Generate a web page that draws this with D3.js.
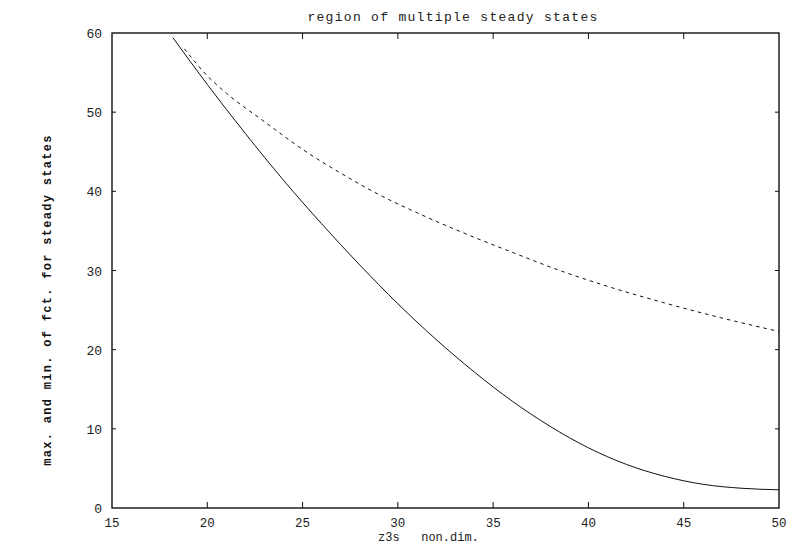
<!DOCTYPE html>
<html>
<head>
<meta charset="utf-8">
<script src="https://cdn.jsdelivr.net/npm/d3@7"></script>
<style>
  body { margin: 0; background: #fff; }
  svg { display: block; }
</style>
</head>
<body>
<script>
// upper branch (dashed) and lower branch (solid)
const maxX = [18.8, 20, 21, 23, 25, 27, 29, 31, 34, 36, 38.5, 41, 44, 47, 50];
const maxY = [58.0, 54.6, 52.4, 48.8, 45.3, 42.3, 39.6, 37.3, 34.2, 32.3, 30.0, 28.0, 25.9, 24.0, 22.3];
const minX = [18.2, 20, 22, 24, 26, 28, 30, 32, 34, 36, 38, 40, 42, 44, 46, 48, 50];
const minY = [59.4, 53.5, 47.3, 41.4, 35.9, 30.7, 25.8, 21.3, 17.2, 13.5, 10.3, 7.6, 5.5, 4.0, 3.0, 2.5, 2.3];
const xTicks = [15, 20, 25, 30, 35, 40, 45, 50];
const yTicks = [0, 10, 20, 30, 40, 50, 60];

const width = 789, height = 546;
const margin = { top: 33, right: 10, bottom: 38, left: 112 };

const svg = d3.select("body").append("svg")
    .attr("width", width)
    .attr("height", height);

const x = d3.scaleLinear().domain([15, 50]).range([margin.left, width - margin.right]);
const y = d3.scaleLinear().domain([0, 60]).range([height - margin.bottom, margin.top]);

const tickFont = "'Liberation Mono', 'DejaVu Sans Mono', monospace";

// frame
svg.append("rect")
    .attr("x", x(15)).attr("y", y(60))
    .attr("width", x(50) - x(15)).attr("height", y(0) - y(60))
    .attr("fill", "none").attr("stroke", "#111").attr("stroke-width", 1.4);

// inward ticks on all four sides
const tickLen = 6;
svg.append("g").selectAll("line").data(xTicks.slice(1, -1)).join("line")
    .attr("x1", d => x(d)).attr("x2", d => x(d))
    .attr("y1", y(0)).attr("y2", y(0) - tickLen)
    .attr("stroke", "#111");
svg.append("g").selectAll("line").data(xTicks.slice(1, -1)).join("line")
    .attr("x1", d => x(d)).attr("x2", d => x(d))
    .attr("y1", y(60)).attr("y2", y(60) + tickLen)
    .attr("stroke", "#111");
svg.append("g").selectAll("line").data(yTicks.slice(1, -1)).join("line")
    .attr("x1", x(15)).attr("x2", x(15) + 4)
    .attr("y1", d => y(d)).attr("y2", d => y(d))
    .attr("stroke", "#111");
svg.append("g").selectAll("line").data(yTicks.slice(1, -1)).join("line")
    .attr("x1", x(50)).attr("x2", x(50) - 4)
    .attr("y1", d => y(d)).attr("y2", d => y(d))
    .attr("stroke", "#111");

// tick labels
svg.append("g").selectAll("text").data(xTicks).join("text")
    .attr("x", d => x(d)).attr("y", 527)
    .attr("text-anchor", "middle")
    .style("font-family", tickFont).style("font-size", "12.5px")
    .attr("fill", "#222")
    .text(d => d);
svg.append("g").selectAll("text").data(yTicks).join("text")
    .attr("x", x(15) - 10).attr("y", d => y(d) + 5)
    .attr("text-anchor", "end")
    .style("font-family", tickFont).style("font-size", "13px")
    .attr("fill", "#222")
    .text(d => d);

// curves
const line = d3.line().x(d => x(d[0])).y(d => y(d[1])).curve(d3.curveMonotoneX);

svg.append("path")
    .datum(minX.map((v, i) => [v, minY[i]]))
    .attr("d", line)
    .attr("fill", "none").attr("stroke", "#111").attr("stroke-width", 1);

svg.append("path")
    .datum(maxX.map((v, i) => [v, maxY[i]]))
    .attr("d", line)
    .attr("fill", "none").attr("stroke", "#111").attr("stroke-width", 1)
    .attr("stroke-dasharray", "3.5,4");

// title and axis labels
svg.append("text")
    .attr("x", 453).attr("y", 21)
    .attr("text-anchor", "middle")
    .style("font-family", tickFont).style("font-size", "13px")
    .style("letter-spacing", "1.3px")
    .attr("fill", "#222")
    .text("region of multiple steady states");

svg.append("text")
    .attr("x", 378).attr("y", 541)
    .style("font-family", tickFont).style("font-size", "12px")
    .style("white-space", "pre")
    .attr("fill", "#222")
    .text("z3s   non.dim.");

svg.append("text")
    .attr("transform", "translate(51,300) rotate(-90)")
    .attr("text-anchor", "middle")
    .style("font-family", "'Liberation Mono', 'Courier New', monospace")
    .style("font-size", "12px").style("font-weight", "bold")
    .style("letter-spacing", "1.3px")
    .attr("fill", "#111")
    .text("max. and min. of fct. for steady states");
</script>
</body>
</html>
